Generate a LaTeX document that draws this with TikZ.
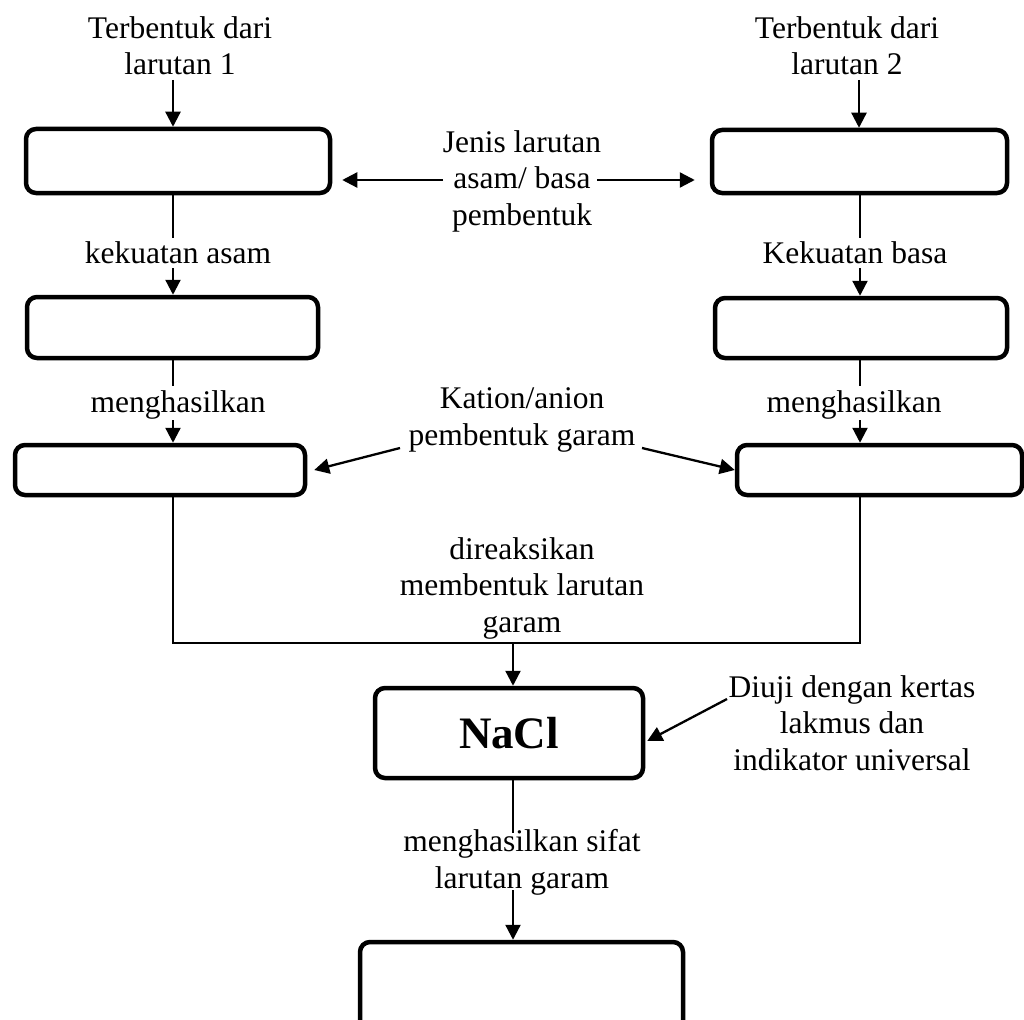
\documentclass[tikz,border=0pt]{standalone}
\usepackage{fontspec}
\setmainfont{Liberation Serif}
\usetikzlibrary{arrows.meta}
\begin{document}
\begin{tikzpicture}[x=1pt,y=-1pt,
  box/.style={draw, line width=4.5pt, rounded corners=10pt, inner sep=0pt, rectangle},
  conn/.style={line width=2.3pt},
  arr/.style={line width=2.3pt, -{Triangle[length=15pt,width=15pt]}},
  lbl/.style={font=\fontsize{31.5}{36.5}\selectfont, align=center, inner sep=0pt, anchor=base},
]
\useasboundingbox (0,0) rectangle (1024,1019);
\clip (0,0) rectangle (1024,1019);

% boxes
\node[box, minimum width=304pt, minimum height=64pt] (b1l) at (178,161) {};
\node[box, minimum width=295pt, minimum height=63pt] (b1r) at (859.5,161.5) {};
\node[box, minimum width=291pt, minimum height=61pt] (b2l) at (172.5,327.5) {};
\node[box, minimum width=292pt, minimum height=60pt] (b2r) at (861,328) {};
\node[box, minimum width=290pt, minimum height=50pt] (b3l) at (160,470) {};
\node[box, minimum width=285pt, minimum height=50pt] (b3r) at (879.5,470) {};
\node[box, minimum width=268pt, minimum height=90pt, font=\fontsize{45}{50}\selectfont\bfseries] (nacl) at (509,733) {NaCl};
\node[box, minimum width=323pt, minimum height=96pt] (bot) at (521.5,990) {};

% column coordinates
\coordinate (cl) at (173,0);
\coordinate (cr) at (860,0);
\coordinate (cm) at (513,0);

% labels (anchor = baseline of last line)
\node[lbl] (t1) at (180,75) {Terbentuk dari\\larutan 1};
\node[lbl] (t2) at (847,75) {Terbentuk dari\\larutan 2};
\node[lbl] (jenis) at (522,225) {Jenis larutan\\asam/ basa\\pembentuk};
\node[lbl] (kua) at (178,263) {kekuatan asam};
\node[lbl] (kub) at (855,263) {Kekuatan basa};
\node[lbl] (m1) at (178,412) {menghasilkan};
\node[lbl] (m2) at (854,412) {menghasilkan};
\node[lbl] (kation) at (522,445) {Kation/anion\\pembentuk garam};
\node[lbl] (reaksi) at (522,632) {direaksikan\\membentuk larutan\\garam};
\node[lbl] (diuji) at (852,770) {Diuji dengan kertas\\lakmus dan\\indikator universal};
\node[lbl] (sifat) at (522,888) {menghasilkan sifat\\larutan garam};

% top arrows
\coordinate (a1) at (173,80);
\coordinate (a2) at (859,80);
\draw[arr] (a1) -- (a1 |- b1l.north);
\draw[arr] (a2) -- (a2 |- b1r.north);

% jenis arrows
\coordinate (jl) at (443,180);
\coordinate (jr) at (597,180);
\draw[arr, shorten >=10pt] (jl) -- (jl -| b1l.east);
\draw[arr, shorten >=15pt] (jr) -- (jr -| b1r.west);

% left column
\draw[conn] (cl |- b1l.south) -- (cl |- 0,238);
\draw[arr] (cl |- 0,268) -- (cl |- b2l.north);
\draw[conn] (cl |- b2l.south) -- (cl |- 0,386);
\draw[arr] (cl |- 0,420) -- (cl |- b3l.north);

% right column
\draw[conn] (cr |- b1r.south) -- (cr |- 0,238);
\draw[arr] (cr |- 0,268) -- (cr |- b2r.north);
\draw[conn] (cr |- b2r.south) -- (cr |- 0,386);
\draw[arr] (cr |- 0,420) -- (cr |- b3r.north);

% kation arrows
\coordinate (ka1) at (400,448);
\coordinate (ka2) at (642,448);
\draw[arr] (ka1) -- ([xshift=7pt]b3l.east);
\draw[arr] (ka2) -- (b3r.west);

% merge
\coordinate (m) at (513,643);
\draw[conn] (cl |- b3l.south) -- (cl |- m) -- (cr |- m) -- (cr |- b3r.south);
\draw[arr] (m) -- (m |- nacl.north);

% diuji arrow
\coordinate (d1) at (727,699);
\draw[arr] (d1) -- ([shift={(2,8)}]nacl.east);

% bottom
\draw[conn] (cm |- nacl.south) -- (cm |- 0,833);
\draw[arr] (cm |- 0,890) -- (cm |- bot.north);
\end{tikzpicture}
\end{document}
